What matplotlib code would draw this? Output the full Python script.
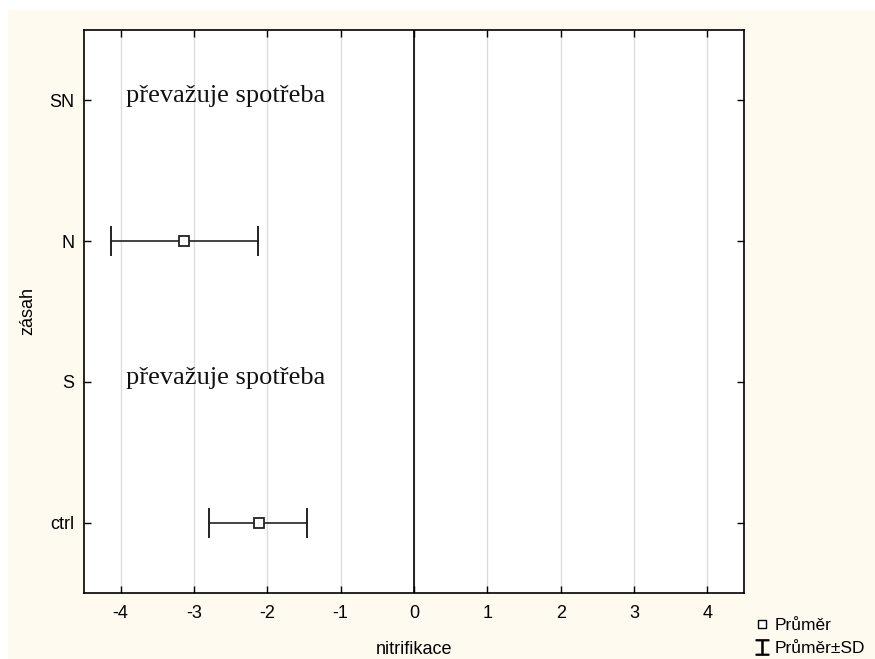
import matplotlib.pyplot as plt
import matplotlib.patches as mpatches
from matplotlib.lines import Line2D

# data
categories = ['ctrl', 'S', 'N', 'SN']
means = [-2.12, None, -3.13, None]
sd_low = [-2.80, None, -4.13, None]
sd_high = [-1.46, None, -2.13, None]
notes = {'S': 'převažuje spotřeba', 'SN': 'převažuje spotřeba'}
xticks = [-4, -3, -2, -1, 0, 1, 2, 3, 4]

cream = '#fffaf0'

fig = plt.figure(figsize=(8.75, 6.59), dpi=100, facecolor='white')
# cream panel, leaving a thin white strip at top and left
fig.patches.append(mpatches.Rectangle((8 / 875, 0), 1 - 8 / 875, 1 - 10 / 659,
                                      transform=fig.transFigure, facecolor=cream,
                                      edgecolor='none', zorder=-10))

ax = fig.add_axes([84 / 875, 1 - 593 / 659, 660 / 875, 563 / 659])
ax.set_facecolor('white')
ax.set_xlim(-4.5, 4.5)
ax.set_ylim(-0.5, 3.5)

for x in xticks:
    ax.axvline(x, color='#dcdcdc', lw=1, zorder=0)
ax.axvline(0, color='black', lw=1.2, zorder=1)

for i, cat in enumerate(categories):
    if means[i] is not None:
        ax.plot([sd_low[i], sd_high[i]], [i, i], color='#222222', lw=1.2, zorder=2)
        for xe in (sd_low[i], sd_high[i]):
            ax.plot([xe, xe], [i - 0.1, i + 0.1], color='#222222', lw=1.4, zorder=2)
        ax.plot(means[i], i, marker='s', ms=7.5, mfc='white', mec='#222222', mew=1.3,
                ls='none', zorder=3)
    if cat in notes:
        ax.text(-3.93, i + 0.03, notes[cat], family='Liberation Serif', fontsize=19,
                ha='left', va='center', color='#111111')

ax.set_xticks(xticks)
ax.set_xticklabels([str(x) for x in xticks])
ax.set_yticks(range(len(categories)))
ax.set_yticklabels(categories)
ax.tick_params(direction='in', length=5, width=1, top=True, right=True,
               labelsize=13, colors='black')
ax.tick_params(axis='x', pad=9)
ax.tick_params(axis='y', pad=7)
for lab in ax.get_xticklabels() + ax.get_yticklabels():
    lab.set_family('Liberation Sans')
for s in ax.spines.values():
    s.set_linewidth(1.2)
    s.set_color('black')

fig.text(414 / 875, 1 - 649 / 659, 'nitrifikace', family='Liberation Sans',
         fontsize=13, ha='center', va='center')
fig.text(28 / 875, 1 - 311 / 659, 'zásah', family='Liberation Sans',
         fontsize=13, ha='center', va='center', rotation=90)

handles = [Line2D([], [], marker='s', ms=6, mfc='white', mec='black', mew=1, ls='none'),
           Line2D([], [], marker='$\u2336$', ms=11, color='black', ls='none')]
leg = fig.legend(handles, ['Průměr', 'Průměr±SD'], loc='lower left',
                 bbox_to_anchor=(743 / 875, 1 - 668 / 659), frameon=False,
                 prop={'family': 'Liberation Sans', 'size': 12.5},
                 handlelength=0.8, handletextpad=0.35, labelspacing=0.45, borderpad=0.2)

fig.savefig('out.png', dpi=100, facecolor='white')
